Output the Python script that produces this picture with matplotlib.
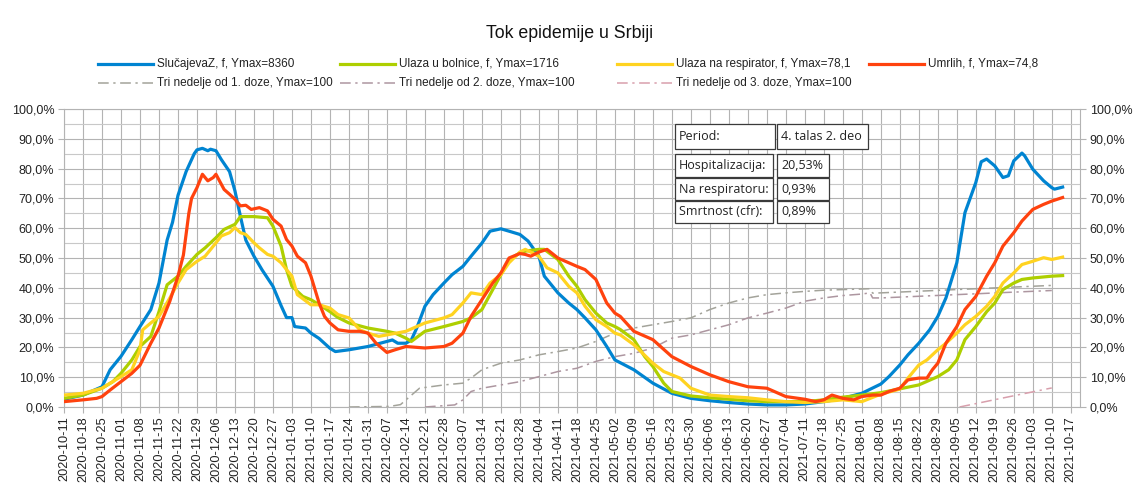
import matplotlib
matplotlib.use("Agg")
import matplotlib.pyplot as plt
import matplotlib.dates as mdates
from matplotlib.patches import Rectangle
from matplotlib.lines import Line2D
import pandas as pd

plt.rcParams['font.family'] = ['Liberation Sans', 'DejaVu Sans']

# ---------------- data ----------------
title = "Tok epidemije u Srbiji"
series_labels = ["SlučajevaZ, f, Ymax=8360", "Ulaza u bolnice, f, Ymax=1716",
                 "Ulaza na respirator, f, Ymax=78,1", "Umrlih, f, Ymax=74,8",
                 "Tri nedelje od 1. doze, Ymax=100", "Tri nedelje od 2. doze, Ymax=100",
                 "Tri nedelje od 3. doze, Ymax=100"]

cases_dates = ["2020-10-11", "2020-10-18", "2020-10-25", "2020-10-28", "2020-11-01", "2020-11-05",
               "2020-11-08", "2020-11-12", "2020-11-15", "2020-11-18", "2020-11-20", "2020-11-22",
               "2020-11-25", "2020-11-28", "2020-11-29", "2020-12-01", "2020-12-03", "2020-12-04",
               "2020-12-06", "2020-12-08", "2020-12-11", "2020-12-13", "2020-12-15", "2020-12-17",
               "2020-12-20", "2020-12-23", "2020-12-27", "2020-12-30", "2021-01-01", "2021-01-03",
               "2021-01-04", "2021-01-08", "2021-01-10", "2021-01-13", "2021-01-17", "2021-01-19",
               "2021-01-24", "2021-01-31", "2021-02-07", "2021-02-09", "2021-02-11", "2021-02-14",
               "2021-02-16", "2021-02-18", "2021-02-21", "2021-02-24", "2021-02-28", "2021-03-03",
               "2021-03-07", "2021-03-10", "2021-03-14", "2021-03-17", "2021-03-21", "2021-03-24",
               "2021-03-28", "2021-03-31", "2021-04-04", "2021-04-06", "2021-04-11", "2021-04-15",
               "2021-04-18", "2021-04-21", "2021-04-25", "2021-04-29", "2021-05-02", "2021-05-09",
               "2021-05-16", "2021-05-23", "2021-05-30", "2021-06-06", "2021-06-13", "2021-06-20",
               "2021-06-27", "2021-07-04", "2021-07-11", "2021-07-18", "2021-07-25", "2021-08-01",
               "2021-08-08", "2021-08-11", "2021-08-15", "2021-08-18", "2021-08-22", "2021-08-26",
               "2021-08-29", "2021-09-01", "2021-09-05", "2021-09-08", "2021-09-12", "2021-09-14",
               "2021-09-16", "2021-09-19", "2021-09-22", "2021-09-24", "2021-09-26", "2021-09-29",
               "2021-09-30", "2021-10-03", "2021-10-07", "2021-10-10", "2021-10-11", "2021-10-14"]
cases_vals = [2.6, 4.0, 6.8, 12.5, 17, 22.6, 27, 32.7, 41.6, 56, 62, 71, 79, 85, 86.3, 86.8, 86, 86.5,
              86, 83, 79, 72.5, 64, 56, 50.6, 46, 40.5, 34, 30, 30, 27, 26.5, 24.8, 23, 19.7, 18.6,
              19.2, 20.3, 22, 22.5, 21.4, 21.4, 22.5, 26.5, 33.8, 37.7, 41.6, 44.4, 47.2, 50.6, 55, 59,
              59.8, 59, 57.9, 55.7, 50.6, 43.9, 38.3, 34.9, 32.7, 29.9, 25.9, 20.3, 15.8, 12.5, 8, 4.6,
              2.9, 2.1, 1.5, 1.0, 0.7, 0.7, 1.0, 1.8, 2.9, 4.6, 7.7, 10.2, 14.1, 17.5, 21.4, 25.9, 30.4,
              36.6, 48.4, 65.2, 75.3, 82.3, 83.2, 80.9, 77, 77.6, 82.6, 85.2, 84.3, 79.8, 75.9, 73.6,
              73.1, 73.8]

hosp_dates = ["2020-10-11", "2020-10-18", "2020-10-25", "2020-10-29", "2020-11-01", "2020-11-05",
              "2020-11-08", "2020-11-12", "2020-11-15", "2020-11-18", "2020-11-22", "2020-11-25",
              "2020-11-29", "2020-12-02", "2020-12-06", "2020-12-09", "2020-12-13", "2020-12-15",
              "2020-12-20", "2020-12-25", "2020-12-27", "2020-12-30", "2021-01-01", "2021-01-03",
              "2021-01-07", "2021-01-10", "2021-01-14", "2021-01-17", "2021-01-20", "2021-01-24",
              "2021-01-31", "2021-02-07", "2021-02-10", "2021-02-14", "2021-02-16", "2021-02-21",
              "2021-02-28", "2021-03-07", "2021-03-10", "2021-03-14", "2021-03-18", "2021-03-21",
              "2021-03-24", "2021-03-28", "2021-03-30", "2021-04-04", "2021-04-06", "2021-04-11",
              "2021-04-15", "2021-04-18", "2021-04-21", "2021-04-25", "2021-04-29", "2021-05-02",
              "2021-05-04", "2021-05-09", "2021-05-13", "2021-05-16", "2021-05-20", "2021-05-23",
              "2021-05-30", "2021-06-06", "2021-06-13", "2021-06-20", "2021-06-27", "2021-07-04",
              "2021-07-11", "2021-07-18", "2021-07-25", "2021-08-01", "2021-08-08", "2021-08-15",
              "2021-08-22", "2021-08-29", "2021-09-02", "2021-09-05", "2021-09-08", "2021-09-12",
              "2021-09-16", "2021-09-19", "2021-09-22", "2021-09-26", "2021-09-29", "2021-10-03",
              "2021-10-10", "2021-10-14"]
hosp_vals = [2.9, 4, 6.3, 8.5, 11.3, 15.8, 20.3, 23.7, 32, 41, 43.9, 47.2, 51.2, 53.4, 56.8, 59.6,
             61.3, 63.9, 63.9, 63.5, 60.7, 54, 46.1, 40.5, 37.1, 36, 33.8, 32, 30, 28.2, 26.5, 25.4,
             24.8, 23.1, 22, 25.4, 27, 28.7, 29.9, 32.7, 39.4, 44.4, 49.5, 51.7, 52.3, 52.9, 52.9,
             49.5, 43.9, 40.5, 36, 31.5, 28.2, 27, 26, 22.6, 16.9, 13.6, 8, 5.2, 3.7, 3.1, 2.6, 2.1,
             1.8, 1.8, 1.8, 2.4, 3.3, 4, 4.8, 6.1, 7.4, 10.2, 12.5, 15.8, 22.6, 27, 32, 34.9, 39.4,
             41.6, 42.8, 43.3, 43.9, 44.1]

resp_dates = ["2020-10-11", "2020-10-18", "2020-10-25", "2020-11-01", "2020-11-05", "2020-11-08",
              "2020-11-09", "2020-11-12", "2020-11-15", "2020-11-19", "2020-11-22", "2020-11-25",
              "2020-11-29", "2020-12-02", "2020-12-06", "2020-12-08", "2020-12-11", "2020-12-13",
              "2020-12-15", "2020-12-17", "2020-12-20", "2020-12-22", "2020-12-25", "2020-12-27",
              "2020-12-30", "2021-01-01", "2021-01-03", "2021-01-05", "2021-01-10", "2021-01-13",
              "2021-01-17", "2021-01-20", "2021-01-24", "2021-01-28", "2021-01-31", "2021-02-04",
              "2021-02-07", "2021-02-14", "2021-02-21", "2021-02-28", "2021-03-03", "2021-03-07",
              "2021-03-10", "2021-03-14", "2021-03-17", "2021-03-21", "2021-03-24", "2021-03-28",
              "2021-03-30", "2021-04-04", "2021-04-07", "2021-04-11", "2021-04-15", "2021-04-18",
              "2021-04-21", "2021-04-25", "2021-04-29", "2021-05-02", "2021-05-04", "2021-05-09",
              "2021-05-16", "2021-05-20", "2021-05-23", "2021-05-26", "2021-05-30", "2021-06-06",
              "2021-06-13", "2021-06-20", "2021-06-27", "2021-07-04", "2021-07-11", "2021-07-18",
              "2021-07-25", "2021-08-01", "2021-08-08", "2021-08-15", "2021-08-18", "2021-08-22",
              "2021-08-25", "2021-08-29", "2021-09-01", "2021-09-05", "2021-09-08", "2021-09-12",
              "2021-09-16", "2021-09-19", "2021-09-22", "2021-09-26", "2021-09-29", "2021-10-03",
              "2021-10-07", "2021-10-10", "2021-10-14"]
resp_vals = [4, 4.6, 6.3, 10.2, 12.5, 19.2, 25.9, 28.2, 30.4, 36.6, 41.6, 46.1, 48.9, 50.6, 55.1,
             57.4, 58.5, 60.2, 58.5, 57.9, 55.1, 53.4, 51.2, 50.6, 48.4, 46.1, 43.9, 37.7, 34.3, 34.3,
             33.2, 31, 29.9, 25.9, 24.8, 23.7, 24.2, 25.4, 28.2, 29.9, 31, 34.9, 38.3, 37.7, 41.6,
             44.4, 48.4, 52, 52.9, 50.6, 46.7, 45, 40.5, 38.3, 33.8, 29.3, 27, 24.8, 24.2, 20.9, 14.7,
             11.9, 10.8, 9.7, 6.3, 4, 3.5, 3.1, 2.4, 1.8, 1.5, 1.8, 2.4, 1.8, 4.3, 6, 9.7, 14.1, 15.8,
             19.2, 21.4, 24.8, 27.6, 30.4, 33.8, 37.1, 41.6, 45, 47.8, 48.9, 50.1, 49.5, 50.3]

death_dates = ["2020-10-11", "2020-10-18", "2020-10-23", "2020-10-25", "2020-10-28", "2020-11-01",
               "2020-11-05", "2020-11-08", "2020-11-12", "2020-11-15", "2020-11-19", "2020-11-22",
               "2020-11-24", "2020-11-25", "2020-11-26", "2020-11-27", "2020-11-29", "2020-12-01",
               "2020-12-03", "2020-12-05", "2020-12-06", "2020-12-07", "2020-12-09", "2020-12-11",
               "2020-12-13", "2020-12-15", "2020-12-17", "2020-12-19", "2020-12-22", "2020-12-25",
               "2020-12-27", "2020-12-30", "2021-01-01", "2021-01-03", "2021-01-05", "2021-01-08",
               "2021-01-10", "2021-01-13", "2021-01-15", "2021-01-17", "2021-01-20", "2021-01-24",
               "2021-01-28", "2021-01-31", "2021-02-03", "2021-02-07", "2021-02-10", "2021-02-14",
               "2021-02-21", "2021-02-28", "2021-03-03", "2021-03-07", "2021-03-10", "2021-03-14",
               "2021-03-18", "2021-03-21", "2021-03-24", "2021-03-28", "2021-03-30", "2021-04-01",
               "2021-04-04", "2021-04-07", "2021-04-11", "2021-04-15", "2021-04-18", "2021-04-21",
               "2021-04-25", "2021-04-29", "2021-05-02", "2021-05-04", "2021-05-09", "2021-05-16",
               "2021-05-23", "2021-05-30", "2021-06-06", "2021-06-13", "2021-06-20", "2021-06-27",
               "2021-07-04", "2021-07-11", "2021-07-15", "2021-07-18", "2021-07-21", "2021-07-25",
               "2021-07-29", "2021-08-01", "2021-08-05", "2021-08-08", "2021-08-11", "2021-08-15",
               "2021-08-18", "2021-08-22", "2021-08-25", "2021-08-27", "2021-08-29", "2021-09-01",
               "2021-09-05", "2021-09-08", "2021-09-12", "2021-09-16", "2021-09-19", "2021-09-22",
               "2021-09-26", "2021-09-29", "2021-10-03", "2021-10-07", "2021-10-10", "2021-10-14"]
death_vals = [1.8, 2.4, 2.9, 3.5, 5.7, 8.5, 11.3, 14.0, 21.4, 26.5, 35.5, 43.9, 51, 58, 65, 70,
              73.6, 78.1, 75.9, 77, 78.1, 76.4, 73, 71.4, 69.7, 67.5, 67.7, 66.3, 66.9, 65.8, 63,
              60.7, 56.2, 54, 50.6, 48.4, 43.9, 34.9, 30.4, 28.2, 25.9, 25.4, 25.4, 24.8, 21.4, 18.3,
              19.2, 20.3, 19.8, 20.3, 21.4, 24.8, 30.4, 36, 41.6, 45, 50, 51.5, 51.2, 50.6, 52, 52.9,
              50, 48.4, 47.2, 46.1, 42.8, 34.9, 31.5, 30.4, 25.4, 22.6, 16.9, 13.6, 10.8, 8.5, 6.8,
              6.3, 3.5, 2.6, 1.8, 2.4, 4.0, 2.9, 2.4, 3.5, 4.0, 4.0, 5.2, 6.3, 9.1, 9.7, 9.7, 12.5,
              14.7, 21.4, 27, 32.7, 37.1, 43.9, 48.4, 54, 58.5, 62.4, 66.3, 68, 69.1, 70.3]

dose1_dates = ["2021-01-24", "2021-02-08", "2021-02-12", "2021-02-19", "2021-02-28", "2021-03-07",
               "2021-03-10", "2021-03-14", "2021-03-21", "2021-03-28", "2021-04-04", "2021-04-11",
               "2021-04-18", "2021-04-25", "2021-05-02", "2021-05-09", "2021-05-23", "2021-05-30",
               "2021-06-06", "2021-06-13", "2021-06-20", "2021-06-27", "2021-07-04", "2021-07-11",
               "2021-07-18", "2021-07-25", "2021-08-01", "2021-08-04", "2021-08-05", "2021-08-08",
               "2021-10-10"]
dose1_vals = [0, 0.2, 0.8, 6.3, 7.4, 8, 9.7, 12.5, 14.7, 15.8, 17.5, 18.6, 19.8, 22, 24.8, 26.5,
              28.7, 29.9, 32.7, 34.9, 36.6, 37.7, 38.3, 38.8, 39.2, 39.4, 39.6, 39.7, 38.2, 38.3, 40.8]

dose2_dates = ["2021-02-21", "2021-03-04", "2021-03-07", "2021-03-10", "2021-03-14", "2021-03-21",
               "2021-03-28", "2021-04-04", "2021-04-11", "2021-04-18", "2021-04-25", "2021-05-02",
               "2021-05-09", "2021-05-16", "2021-05-23", "2021-05-30", "2021-06-06", "2021-06-13",
               "2021-06-20", "2021-06-27", "2021-07-04", "2021-07-11", "2021-07-18", "2021-07-25",
               "2021-08-01", "2021-08-04", "2021-08-05", "2021-08-08", "2021-10-10"]
dose2_vals = [0, 0.7, 2.4, 5.2, 6.3, 7.4, 8.5, 10.2, 11.9, 13, 15.3, 16.9, 18, 19.8, 23.1, 24.2,
              25.9, 27.6, 29.9, 31.5, 33.2, 35.5, 36.6, 37.4, 37.9, 38.3, 36.6, 36.6, 39.1]

dose3_dates = ["2021-09-06", "2021-09-24", "2021-10-10"]
dose3_vals = [0, 3.4, 6.4]

week_ticks = pd.date_range("2020-10-11", "2021-10-17", freq="7D")

table_rows = [("Period:", "4. talas 2. deo"),
              ("Hospitalizacija:", "20,53%"),
              ("Na respiratoru:", "0,93%"),
              ("Smrtnost (cfr):", "0,89%")]

# ---------------- style ----------------
W, H = 1140, 488
c_cases, c_hosp, c_resp, c_death = "#0084d1", "#aecf00", "#ffd320", "#ff420e"
c_d1, c_d2, c_d3 = "#a3a39a", "#ad96a0", "#d89fac"
grid_c = "#b3b3b3"
dash = (0, (7, 3, 1.5, 3))
lw = 2.3

fig = plt.figure(figsize=(W / 100, H / 100), dpi=100)
ax = fig.add_axes([64 / W, 81 / H, (1080 - 64) / W, (407 - 109) / H])

def d(lst):
    return pd.to_datetime(lst)

h_d1, = ax.plot(d(dose1_dates), dose1_vals, color=c_d1, lw=1.1, linestyle=dash, zorder=2)
h_d2, = ax.plot(d(dose2_dates), dose2_vals, color=c_d2, lw=1.1, linestyle=dash, zorder=2)
h_d3, = ax.plot(d(dose3_dates), dose3_vals, color=c_d3, lw=1.1, linestyle=dash, zorder=2)
h_c, = ax.plot(d(cases_dates), cases_vals, color=c_cases, lw=lw, zorder=3)
h_h, = ax.plot(d(hosp_dates), hosp_vals, color=c_hosp, lw=lw, zorder=3)
h_r, = ax.plot(d(resp_dates), resp_vals, color=c_resp, lw=lw, zorder=3)
h_m, = ax.plot(d(death_dates), death_vals, color=c_death, lw=lw, zorder=4)

x0 = mdates.date2num(pd.Timestamp("2020-10-11"))
ax.set_xlim(x0, x0 + 374.4)
ax.set_ylim(0, 100)

ax.set_xticks(week_ticks)
ax.xaxis.set_major_formatter(mdates.DateFormatter("%Y-%m-%d"))
plt.setp(ax.get_xticklabels(), rotation=90, fontsize=9.2, color="#222222")
ax.set_yticks(range(0, 101, 10))
ax.set_yticks(range(5, 100, 10), minor=True)
fmt = lambda v: f"{v:.1f}%".replace(".", ",")
ax.set_yticklabels([fmt(v) for v in range(0, 101, 10)], fontsize=9, color="#222222")
ax.tick_params(axis="x", length=4, width=0.8, color=grid_c, pad=3)
ax.tick_params(axis="y", which="major", length=4, width=0.8, color=grid_c, pad=3)
ax.tick_params(axis="y", which="minor", length=0)
ax.grid(True, which="major", color=grid_c, lw=0.8, zorder=0)
ax.grid(True, which="minor", axis="y", color="#c8c8c8", lw=0.8, zorder=0)
for s in ax.spines.values():
    s.set_color(grid_c)
    s.set_linewidth(0.8)

ax2 = ax.twinx()
ax2.set_ylim(0, 100)
ax2.set_yticks(range(0, 101, 10))
ax2.set_yticklabels([fmt(v) for v in range(0, 101, 10)], fontsize=9, color="#222222")
ax2.tick_params(axis="y", length=4, width=0.8, color=grid_c, pad=3)
for s in ax2.spines.values():
    s.set_visible(False)

fig.text(570 / W, 1 - 33 / H, title, ha="center", va="center", fontsize=12.8, color="#111111")

# legend, laid out in LibreOffice style (row-major, fixed column positions)
handles = [h_c, h_h, h_r, h_m, h_d1, h_d2, h_d3]
styles = ["-", "-", "-", "-", dash, dash, dash]
slots = [(98, 64), (340, 64), (617, 64), (869, 64), (98, 83), (340, 83), (617, 83)]
for h, st, lab, (px, py) in zip(handles, styles, series_labels, slots):
    fy = 1 - py / H
    fig.add_artist(Line2D([px / W, (px + 55) / W], [fy, fy], transform=fig.transFigure,
                          color=h.get_color(), lw=h.get_linewidth(), linestyle=st))
    fig.text((px + 59) / W, fy, lab, ha="left", va="center", fontsize=8.5, color="#222222")

# info table
cells = [((675, 124, 775, 149), (777, 124, 868, 149)),
         ((675, 154, 773, 177), (777, 154, 829, 177)),
         ((675, 178, 773, 200), (777, 178, 829, 200)),
         ((675, 201, 773, 223), (777, 201, 829, 223))]
for (lab, val), boxes in zip(table_rows, cells):
    for txt, (xa, ya, xb, yb) in zip((lab, val), boxes):
        fig.patches.append(Rectangle((xa / W, 1 - yb / H), (xb - xa) / W, (yb - ya) / H,
                                     transform=fig.transFigure, facecolor="white",
                                     edgecolor="#3a3a3a", lw=0.9, zorder=5))
        fig.text((xa + 4) / W, 1 - (ya + yb) / 2 / H, txt, ha="left", va="center",
                 fontsize=9, family=["Open Sans", "DejaVu Sans"], color="#222222", zorder=6)

fig.savefig("out.png", dpi=100, facecolor="white")
